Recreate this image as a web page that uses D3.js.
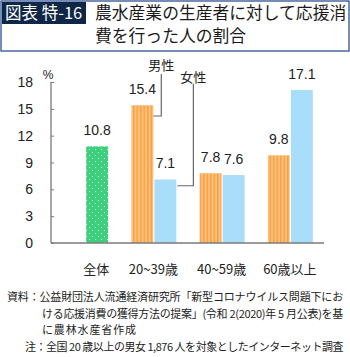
<!DOCTYPE html>
<html><head><meta charset="utf-8">
<script src="https://cdn.jsdelivr.net/npm/d3@7"></script>
<style>
html,body{margin:0;padding:0;background:#fff;}
svg{display:block;}
</style></head>
<body>
<script>
const categories = ["全体", "20~39歳", "40~59歳", "60歳以上"];
const totalValue = 10.8;
const maleValues = [null, 15.4, 7.8, 9.8];
const femaleValues = [null, 7.1, 7.6, 17.1];
const yTicks = [0, 3, 6, 9, 12, 15, 18];
const titleLabel = "図表 特-16";
const titleLines = ["農水産業の生産者に対して応援消", "費を行った人の割合"];
const notes = [
  {text: "資料：公益財団法人流通経済研究所「新型コロナウイルス問題下にお", x: 7, w: 336},
  {text: "ける応援消費の獲得方法の提案」(令和 2(2020)年 5 月公表)を基", x: 42, w: 301},
  {text: "に農林水産省作成", x: 42, w: 95},
  {text: "注：全国 20 歳以上の男女 1,876 人を対象としたインターネット調査", x: 25, w: 318}
];

const W = 350, H = 357;
const svg = d3.select("body").append("svg").attr("width", W).attr("height", H);
const JP = "'Noto Sans CJK JP','Noto Sans',sans-serif";
const NUM = "'Liberation Sans','Noto Sans CJK JP',sans-serif";

// patterns
const defs = svg.append("defs");
const pg = defs.append("pattern").attr("id", "dots").attr("patternUnits", "userSpaceOnUse")
  .attr("width", 6).attr("height", 6).attr("x", 1).attr("y", 1);
pg.append("rect").attr("width", 6).attr("height", 6).attr("fill", "#3ccf7c");
pg.append("rect").attr("x", 1).attr("y", 1).attr("width", 1).attr("height", 1).attr("fill", "#d8f5e4");
pg.append("rect").attr("x", 4).attr("y", 4).attr("width", 1).attr("height", 1).attr("fill", "#d8f5e4");
const po = defs.append("pattern").attr("id", "stripes").attr("patternUnits", "userSpaceOnUse")
  .attr("width", 3.5).attr("height", 10);
po.append("rect").attr("width", 3.5).attr("height", 10).attr("fill", "#ffc07a");
po.append("rect").attr("x", 0).attr("width", 1.5).attr("height", 10).attr("fill", "#f7a248");

// header
svg.append("rect").attr("x", 1).attr("y", 1).attr("width", W - 2).attr("height", 50)
  .attr("fill", "none").attr("stroke", "#2f4f8f").attr("stroke-width", 1.3);
svg.append("rect").attr("x", 2).attr("y", 2).attr("width", 84).attr("height", 22).attr("fill", "#0f2747");
svg.append("text").attr("x", 5).attr("y", 19).attr("fill", "#fff")
  .style("font-family", JP).style("font-size", "16.5px").text(titleLabel);
titleLines.forEach((t, i) => {
  svg.append("text").attr("x", 95).attr("y", 19 + i * 23).attr("fill", "#1a1a1a")
    .style("font-family", JP).style("font-size", "16.8px").text(t);
});

// scales
const x = d3.scaleBand().domain(categories).range([51, 324]);
const y = d3.scaleLinear().domain([0, 18]).range([243, 82]);
const sub = d3.scaleBand().domain(["男性", "女性"]).range([-22, 23]).paddingInner(0.05);
const centerOf = c => x(c) + x.bandwidth() / 2;

// axes
const axisColor = "#7a7a7a";
const yAxis = svg.append("g").attr("transform", "translate(51,0)")
  .call(d3.axisRight(y).tickValues(yTicks).tickSize(3).tickFormat(""));
yAxis.select(".domain").attr("stroke", axisColor).attr("stroke-width", 1.3).attr("d", `M0,${y(18)}V${y(0)}`);
yAxis.selectAll(".tick line").attr("stroke", axisColor);
svg.append("g").selectAll("text").data(yTicks).join("text")
  .attr("x", 33).attr("y", d => y(d) + 5).attr("text-anchor", "end")
  .style("font-family", NUM).style("font-size", "14px").attr("fill", "#222").text(d => d);
svg.append("text").attr("x", 48).attr("y", 79).attr("text-anchor", "middle")
  .style("font-family", NUM).style("font-size", "12px").attr("fill", "#222").text("%");

// bars
const bw = sub.bandwidth();
const bars = [];
bars.push({cat: categories[0], v: totalValue, x0: centerOf(categories[0]) + sub("女性"), fill: "url(#dots)"});
categories.forEach((c, i) => {
  if (maleValues[i] != null) bars.push({cat: c, v: maleValues[i], x0: centerOf(c) + sub("男性"), fill: "url(#stripes)", s: "m"});
  if (femaleValues[i] != null) bars.push({cat: c, v: femaleValues[i], x0: centerOf(c) + sub("女性"), fill: "#a9defa", s: "f"});
});
svg.append("g").selectAll("rect").data(bars).join("rect")
  .attr("x", d => d.x0).attr("y", d => y(d.v)).attr("width", bw).attr("height", d => y(0) - y(d.v))
  .attr("fill", d => d.fill);
svg.append("g").selectAll("text").data(bars).join("text")
  .attr("x", d => d.x0 + bw / 2).attr("y", d => y(d.v) - 11).attr("text-anchor", "middle")
  .style("font-family", NUM).style("font-size", "14px").attr("fill", "#222").text(d => d.v.toFixed(1));

// x axis
svg.append("line").attr("x1", 51).attr("x2", 324).attr("y1", y(0)).attr("y2", y(0))
  .attr("stroke", axisColor).attr("stroke-width", 1.3);
svg.append("g").selectAll("text").data(categories).join("text")
  .attr("x", (d, i) => i === 0 ? centerOf(d) + sub("女性") + bw / 2 - 1 : centerOf(d))
  .attr("y", 274).attr("text-anchor", "middle")
  .style("font-family", JP).style("font-size", "13px").attr("fill", "#222").text(d => d);

// callouts
const c1 = categories[1];
const mRight = centerOf(c1) + sub("男性") + bw;
const fRight = centerOf(c1) + sub("女性") + bw;
const lineColor = "#666";
svg.append("path").attr("fill", "none").attr("stroke", lineColor).attr("stroke-width", 1.2)
  .attr("d", `M${mRight},${y(14.2)}H${mRight + 8}V${y(18.9)}`);
svg.append("text").attr("x", mRight + 8).attr("y", 70).attr("text-anchor", "middle")
  .style("font-family", JP).style("font-size", "13px").attr("fill", "#222").text("男性");
svg.append("path").attr("fill", "none").attr("stroke", lineColor).attr("stroke-width", 1.2)
  .attr("d", `M${fRight + 1},${y(6.4)}H${fRight + 17}V${y(17.8)}`);
svg.append("text").attr("x", fRight + 17).attr("y", 82).attr("text-anchor", "middle")
  .style("font-family", JP).style("font-size", "13px").attr("fill", "#222").text("女性");

// notes
notes.forEach((n, i) => {
  const t = svg.append("text").attr("x", n.x).attr("y", 301 + i * 16.6)
    .style("font-family", JP).style("font-size", "11px").attr("fill", "#222").text(n.text);
  const nat = t.node().getComputedTextLength();
  const ls = Math.max(-0.5, Math.min(1, (n.w - nat) / n.text.length));
  t.style("letter-spacing", ls + "px");
});
</script>
</body></html>
